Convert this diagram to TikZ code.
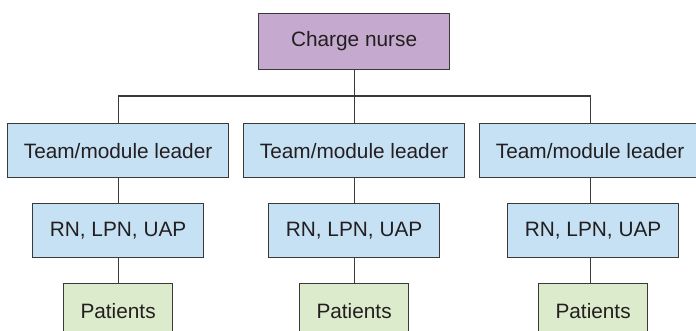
\documentclass[tikz,border=0pt]{standalone}
\usepackage{fontspec}
\setmainfont{Liberation Sans}
\definecolor{purplebox}{HTML}{C5A9CE}
\definecolor{bluebox}{HTML}{C6E0F4}
\definecolor{greenbox}{HTML}{DCEBCC}
\definecolor{edgecol}{HTML}{3A3A3A}
\definecolor{txtcol}{HTML}{231F20}
\begin{document}
\begin{tikzpicture}[x=1pt,y=-1pt,
  box/.style={draw=edgecol,line width=1.2pt,inner sep=0pt,text=txtcol,
    font=\fontsize{20.8}{24}\selectfont,anchor=north west},
  chargebox/.style={box,fill=purplebox,minimum width=191pt,minimum height=56pt},
  teambox/.style={box,fill=bluebox,minimum width=221pt,minimum height=54pt},
  staffbox/.style={box,fill=bluebox,minimum width=171pt,minimum height=54pt},
  patbox/.style={box,fill=greenbox,minimum width=109pt,minimum height=54pt},
  link/.style={draw=edgecol,line width=1.2pt}]
\useasboundingbox (0,0) rectangle (696,331);
\clip (0,0) rectangle (696,331);
\fill[white] (0,0) rectangle (696,331);
% nodes
\node[chargebox] (cn) at (258,13) {Charge nurse};
\node[teambox] (t1) at (7,123) {Team/module leader};
\node[teambox] (t2) at (243,123) {Team/module leader};
\node[teambox] (t3) at (479,123) {Team/module leader};
\node[staffbox] (s1) at (32,203) {RN, LPN, UAP};
\node[staffbox] (s2) at (268,203) {RN, LPN, UAP};
\node[staffbox] (s3) at (507,203) {RN, LPN, UAP};
\node[patbox] (p1) at (63,283) {Patients};
\node[patbox] (p2) at (299,283) {Patients};
\node[patbox] (p3) at (538,283) {Patients};
% connectors
\coordinate (bar) at (0,96);
\draw[link] (cn.south) -- (t2.north);
\draw[link] (t1.north) |- (bar -| t2.north) -| (t3.north);
\draw[link] (t1.south) -- (s1.north -| t1.south);
\draw[link] (t2.south) -- (s2.north -| t2.south);
\draw[link] (t3.south) -- (s3.north -| t3.south);
\draw[link] (s1.south -| t1.south) -- (p1.north -| t1.south);
\draw[link] (s2.south -| t2.south) -- (p2.north -| t2.south);
\draw[link] (s3.south -| t3.south) -- (p3.north -| t3.south);
\end{tikzpicture}
\end{document}
